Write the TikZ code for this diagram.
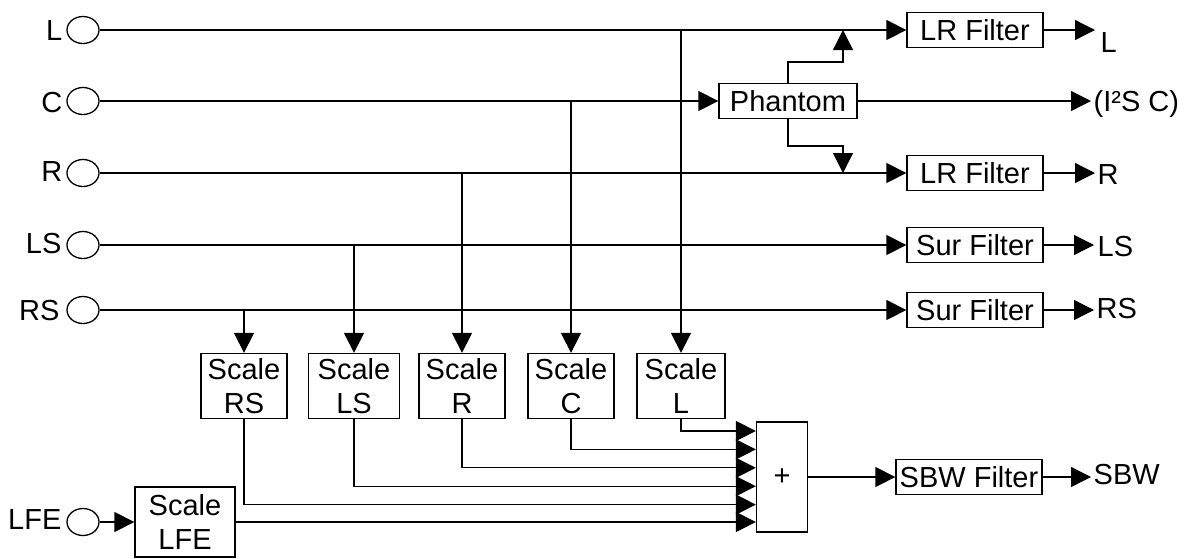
\documentclass[tikz,border=0pt]{standalone}
\usepackage{fontspec}
\setmainfont{Liberation Sans}
\usetikzlibrary{arrows.meta,shapes.geometric}
\begin{document}
\begin{tikzpicture}[x=1pt,y=-1pt,
  line width=1.3pt,
  every node/.style={font=\fontsize{29}{34}\selectfont},
  port/.style={draw, ellipse, minimum width=32pt, minimum height=27pt, inner sep=0pt},
  fbox/.style={draw, rectangle, minimum width=136pt, minimum height=35pt, inner sep=0pt},
  sbox/.style={draw, rectangle, minimum width=86pt, minimum height=65pt, inner sep=0pt, align=center},
  lbl/.style={inner sep=0pt, anchor=base east},
  olbl/.style={inner sep=0pt, anchor=base west},
  arr/.style={-{Triangle[length=20pt,width=20pt]}},
]
\useasboundingbox (0,0) rectangle (1192,558);

% input ports
\node[port] (inL) at (83,30) {};
\node[port] (inC) at (83,101) {};
\node[port] (inR) at (83,173) {};
\node[port] (inLS) at (83,245) {};
\node[port] (inRS) at (83,310) {};
\node[port] (inLFE) at (83,522) {};
\node[lbl] (tL) at (63,40) {L};
\node[lbl] (tC) at (63,112) {C};
\node[lbl] (tR) at (63,181) {R};
\node[lbl] (tLS) at (62,253) {LS};
\node[lbl] (tRS) at (60,320) {RS};
\node[lbl] (tLFE) at (62,529) {LFE};

% filters
\node[fbox] (lrfL) at (975,30) {LR Filter};
\node[fbox, minimum width=138pt] (ph) at (788,101) {Phantom};
\node[fbox] (lrfR) at (975,173) {LR Filter};
\node[fbox] (surLS) at (975,245) {Sur Filter};
\node[fbox] (surRS) at (975,310) {Sur Filter};
\node[fbox, minimum width=146pt] (sbw) at (969,477) {SBW Filter};

% scale boxes
\node[sbox] (scRS) at (244,386) {Scale\\RS};
\node[sbox, minimum width=91pt] (scLS) at (354,386) {Scale\\LS};
\node[sbox] (scR) at (462,386) {Scale\\R};
\node[sbox] (scC) at (571,386) {Scale\\C};
\node[sbox, minimum width=88pt] (scL) at (681,386) {Scale\\L};
\node[sbox, minimum width=100pt, minimum height=70pt] (scLFE) at (185,522) {Scale\\LFE};
\node[draw, rectangle, minimum width=51pt, minimum height=110pt, inner sep=0pt] (sum) at (782,477) {+};

% main lines
\draw[arr] (inL.east) -- (lrfL.west);
\draw[arr] (inC.east) -- (ph.west);
\draw[arr] (inR.east) -- (lrfR.west);
\draw[arr] (inLS.east) -- (surLS.west);
\draw[arr] (inRS.east) -- (surRS.west);
\draw[arr] (inLFE.east) -- (scLFE.west);

% taps
\draw[arr] (scL.north |- inL.east) -- (scL.north);
\draw[arr] (scC.north |- inC.east) -- (scC.north);
\draw[arr] (scR.north |- inR.east) -- (scR.north);
\draw[arr] (scLS.north |- inLS.east) -- (scLS.north);
\draw[arr] (scRS.north |- inRS.east) -- (scRS.north);

% phantom branches
\coordinate (bu) at (843,62);
\coordinate (bd) at (843,146);
\draw[arr] (ph.north) |- (bu) -- (bu |- inL.east);
\draw[arr] (ph.south) |- (bd) -- (bd |- inR.east);

% outputs
\coordinate (oL) at (1095,30);
\coordinate (oC) at (1091,101);
\coordinate (oR) at (1095,173);
\coordinate (oLS) at (1094,245);
\coordinate (oRS) at (1094,310);
\coordinate (oSBW) at (1091,477);
\draw[arr] (lrfL.east) -- (oL);
\draw[arr] (ph.east) -- (oC);
\draw[arr] (lrfR.east) -- (oR);
\draw[arr] (surLS.east) -- (oLS);
\draw[arr] (surRS.east) -- (oRS);
\draw[arr] (sbw.east) -- (oSBW);
\node[olbl] (uL) at (1100,52) {L};
\node[olbl] (uC) at (1093,111) {(I²S C)};
\node[olbl] (uR) at (1097,184) {R};
\node[olbl] (uLS) at (1097,256) {LS};
\node[olbl] (uRS) at (1096,318) {RS};
\node[olbl] (uSBW) at (1093,484) {SBW};

% summing inputs
\draw[arr] (scL.south) |- ([yshift=46pt]sum.west);
\draw[arr] (scC.south) |- ([yshift=27.6pt]sum.west);
\draw[arr] (scR.south) |- ([yshift=9.2pt]sum.west);
\draw[arr] (scLS.south) |- ([yshift=-9.2pt]sum.west);
\draw[arr] (scRS.south) |- ([yshift=-27.6pt]sum.west);
\draw[arr] (scLFE.east) -- (sum.west |- scLFE.east);
\draw[arr] (sum.east) -- (sbw.west);
\end{tikzpicture}
\end{document}
